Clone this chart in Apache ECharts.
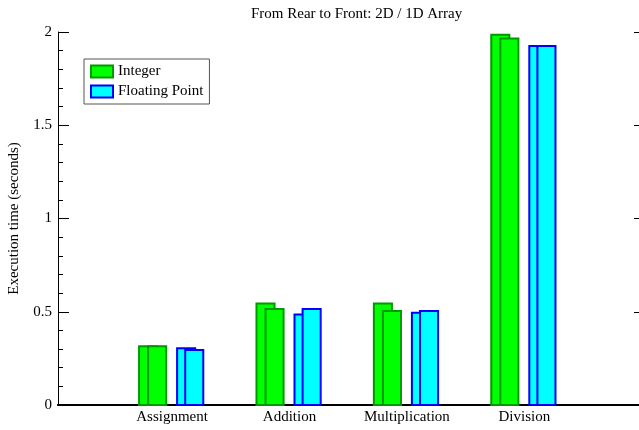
<!DOCTYPE html>
<html>
<head>
<meta charset="utf-8">
<script src="https://cdn.jsdelivr.net/npm/echarts@6/dist/echarts.min.js"></script>
<style>html,body{margin:0;padding:0;background:#fff}#c{width:639px;height:430px}</style>
</head>
<body>
<div id="c"></div>
<script>
var categories = ['Assignment', 'Addition', 'Multiplication', 'Division'];
var intRear = [0.32, 0.55, 0.55, 1.99];
var intFront = [0.32, 0.52, 0.51, 1.97];
var fpRear = [0.31, 0.49, 0.50, 1.93];
var fpFront = [0.30, 0.52, 0.51, 1.93];
var yTicks = [0, 0.5, 1, 1.5, 2];

var FONT = '"Liberation Serif", "Times New Roman", serif';
var BAR_W = 0.171;

function makeRender(rearOff, frontOff, fill, stroke) {
  return function (params, api) {
    var x = api.value(0);
    var w = api.size([BAR_W, 0])[0];
    var base = api.coord([x, 0]);
    function rect(off, v) {
      var p = api.coord([x + off, v]);
      return {
        type: 'rect',
        shape: { x: p[0] + 1, y: p[1] + 1, width: w - 2, height: base[1] - p[1] - 1 },
        style: { fill: fill, stroke: stroke, lineWidth: 2 }
      };
    }
    return { type: 'group', children: [rect(rearOff, api.value(1)), rect(frontOff, api.value(2))] };
  };
}

function build(rear, front) {
  return categories.map(function (c, i) { return [i + 1, rear[i], front[i]]; });
}

var chart = echarts.init(document.getElementById('c'), null, { renderer: 'canvas' });
chart.setOption({
  animation: false,
  backgroundColor: '#fff',
  textStyle: { fontFamily: FONT },
  title: {
    text: 'From Rear to Front: 2D / 1D Array',
    left: 246, top: 2,
    textStyle: { fontFamily: FONT, fontSize: 15, fontWeight: 'normal', color: '#000' }
  },
  legend: {
    left: 84, top: 59,
    orient: 'vertical',
    padding: [5, 6, 5, 6],
    itemWidth: 22, itemHeight: 12, itemGap: 5,
    borderColor: '#555', borderWidth: 1,
    icon: 'rect',
    textStyle: { fontFamily: FONT, fontSize: 15, color: '#000' },
    data: ['Integer', 'Floating Point']
  },
  grid: { left: 58, top: 32, width: 587, bottom: 25, outerBoundsMode: 'none', containLabel: false },
  xAxis: [{
    type: 'value', min: 0.028, max: 5.028, position: 'bottom',
    axisLine: { show: true, lineStyle: { color: '#333', width: 2 } },
    axisTick: { show: false },
    splitLine: { show: false },
    axisLabel: {
      margin: 5, fontFamily: FONT, fontSize: 15, color: '#000',
      customValues: [1, 2, 3, 4],
      formatter: function (v) { return categories[Math.round(v) - 1] || ''; }
    }
  }, {
    type: 'value', min: 0.028, max: 5.028, position: 'top',
    axisLine: { show: true, lineStyle: { color: '#000', width: 2 } },
    axisTick: { show: false }, axisLabel: { show: false }, splitLine: { show: false }
  }],
  yAxis: [{
    type: 'value', min: 0, max: 2, interval: 0.5, position: 'left',
    name: 'Execution time (seconds)', nameLocation: 'middle', nameGap: 36,
    nameTextStyle: { fontFamily: FONT, fontSize: 15, color: '#000' },
    axisLine: { show: true, lineStyle: { color: '#000', width: 1 } },
    axisTick: { show: true, inside: true, length: 11, lineStyle: { color: '#000' } },
    minorTick: { show: true, splitNumber: 5, length: 5, lineStyle: { color: '#000' } },
    axisLabel: {
      margin: 6, fontFamily: FONT, fontSize: 15, color: '#000',
      formatter: function (v) { return yTicks.indexOf(v) >= 0 ? String(v) : ''; }
    },
    splitLine: { show: false }
  }, {
    type: 'value', min: 0, max: 2, interval: 0.5, position: 'right',
    axisLine: { show: true, lineStyle: { color: '#000', width: 1 } },
    axisTick: { show: true, inside: true, length: 11, lineStyle: { color: '#000' } },
    axisLabel: { show: false }, splitLine: { show: false }
  }],
  series: [{
    name: 'Integer', type: 'custom',
    itemStyle: { color: '#00ff00', borderColor: '#009900', borderWidth: 2 },
    renderItem: makeRender(-0.29, -0.213, '#00ff00', '#009900'),
    encode: { x: 0, y: [1, 2] },
    data: build(intRear, intFront)
  }, {
    name: 'Floating Point', type: 'custom',
    itemStyle: { color: '#00ffff', borderColor: '#0000ff', borderWidth: 2 },
    renderItem: makeRender(0.034, 0.103, '#00ffff', '#0000ff'),
    encode: { x: 0, y: [1, 2] },
    data: build(fpRear, fpFront)
  }]
});
</script>
</body>
</html>
